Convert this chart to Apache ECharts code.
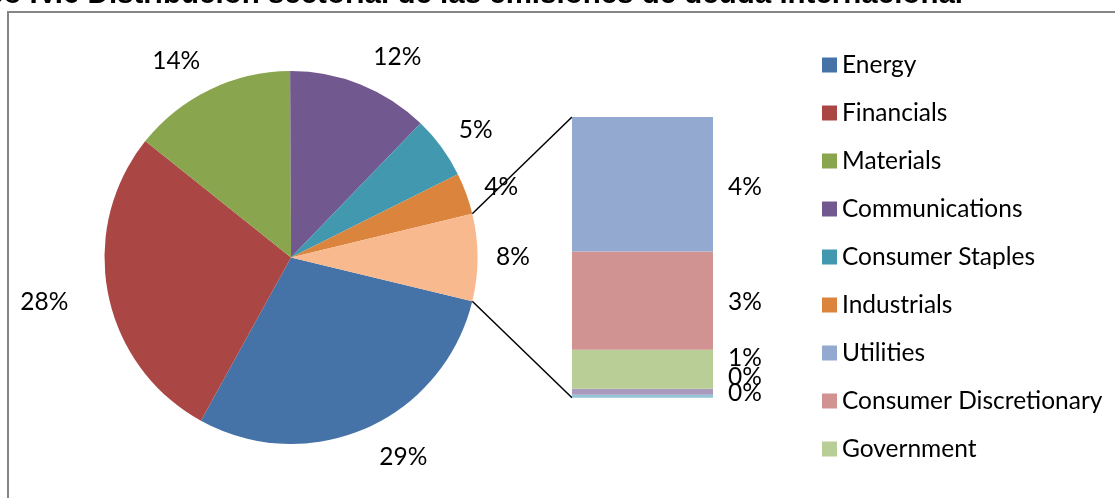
<!DOCTYPE html>
<html>
<head>
<meta charset="utf-8">
<script src="https://cdn.jsdelivr.net/npm/echarts@6/dist/echarts.min.js"></script>
<style>
  html, body { margin: 0; padding: 0; background: #fff; }
  #chart { width: 1115px; height: 498px; }
</style>
</head>
<body>
<div id="chart"></div>
<script>
// Sector shares of international debt issuance (%)
const pieSectors = ['Energy', 'Financials', 'Materials', 'Communications', 'Consumer Staples', 'Industrials'];
const pieValues  = [29.25, 27.7, 14.2, 12.3, 5.4, 3.6];
const pieColors  = ['#4572A7', '#AA4643', '#89A54E', '#71588F', '#4198AF', '#DB843D'];

// Smaller sectors, grouped into the pie's "Other" slice and broken out in the bar (top to bottom)
const barSectors = ['Utilities', 'Consumer Discretionary', 'Government', 'Health Care', 'Technology'];
const barValues  = [3.62, 2.64, 1.05, 0.16, 0.08];
const barColors  = ['#93A9CF', '#D19392', '#B9CD96', '#A99BBD', '#92C5D6'];

const otherName  = 'Other';
const otherColor = '#F9B98F';

const legendNames = ['Energy', 'Financials', 'Materials', 'Communications', 'Consumer Staples',
                     'Industrials', 'Utilities', 'Consumer Discretionary', 'Government'];

const titleText = 'Gráfico IV.6 Distribución sectorial de las emisiones de deuda internacional';

// ---- derived values ----
const otherTotal = barValues.reduce((a, b) => a + b, 0);
const grandTotal = pieValues.reduce((a, b) => a + b, 0) + otherTotal;
const pct = v => Math.round(v / grandTotal * 100) + '%';

// Rotate the pie so the "Other" slice is centred on 3 o'clock
const startAngle = -(otherTotal / grandTotal) * 180;

const FONT = 'Lato';
const FS = 24.5;

const PIE_CX = 291, PIE_CY = 257.5, PIE_R = 186.5;
const BAR = { left: 572, top: 117, width: 141, height: 280.7 };

const pieData = pieSectors.map((n, i) => ({ name: n, value: pieValues[i], itemStyle: { color: pieColors[i] } }))
  .concat([{ name: otherName, value: otherTotal, itemStyle: { color: otherColor } }]);

// Nudges for the pie's outside labels (pie order, then "Other")
const pieLabelNudge = [[20, -10], [-22, 0], [-15, 10], [21, 12], [0, 8], [-5, 8], [-7, 0]];

// Label nudges for the crowded small bar segments (top to bottom)
const barLabelDy = [3, 1, -11, -15, -3];

// Bar series stacked bottom-up, so reverse the top-to-bottom order
const barSeries = barSectors.map((n, i) => ({
  name: n,
  type: 'bar',
  stack: 'other',
  barWidth: '100%',
  silent: true,
  itemStyle: { color: barColors[i] },
  label: {
    show: true,
    position: 'right',
    distance: 15,
    offset: [0, barLabelDy[i]],
    formatter: p => pct(p.value),
    fontFamily: FONT, fontSize: FS, color: '#000'
  },
  data: [barValues[i]]
})).reverse();

// Connector lines from the edges of the "Other" slice to the bar's corners
const a1 = (startAngle + otherTotal / grandTotal * 360) * Math.PI / 180;
const a2 = startAngle * Math.PI / 180;
const p1 = [PIE_CX + PIE_R * Math.cos(a1), PIE_CY - PIE_R * Math.sin(a1)];
const p2 = [PIE_CX + PIE_R * Math.cos(a2), PIE_CY - PIE_R * Math.sin(a2)];

const chart = echarts.init(document.getElementById('chart'), null, { renderer: 'canvas' });

chart.setOption({
  animation: false,
  backgroundColor: '#fff',
  legend: {
    orient: 'vertical',
    left: 822,
    top: 52.5,
    padding: 0,
    itemWidth: 15,
    itemHeight: 15,
    itemGap: 23,
    icon: 'rect',
    selectedMode: false,
    textStyle: { fontFamily: FONT, fontSize: FS, lineHeight: 25, color: '#000' },
    data: legendNames.map(n => {
      const pi = pieSectors.indexOf(n);
      const c = pi >= 0 ? pieColors[pi] : barColors[barSectors.indexOf(n)];
      return { name: n, itemStyle: { color: c, borderWidth: 0 } };
    })
  },
  grid: { left: BAR.left, top: BAR.top, width: BAR.width, height: BAR.height },
  xAxis: { type: 'category', data: [otherName], show: false },
  yAxis: { type: 'value', min: 0, max: otherTotal, show: false },
  series: [
    {
      type: 'pie',
      center: [PIE_CX, PIE_CY],
      radius: PIE_R,
      startAngle: startAngle,
      clockwise: true,
      silent: true,
      avoidLabelOverlap: false,
      label: { show: false },
      labelLine: { show: false },
      itemStyle: { borderWidth: 0 },
      data: pieData
    },
    {
      // label ring: carries the percentage labels just outside the pie
      type: 'pie',
      center: [PIE_CX, PIE_CY],
      radius: [214, 238],
      startAngle: startAngle,
      clockwise: true,
      silent: true,
      avoidLabelOverlap: false,
      itemStyle: { color: 'rgba(0,0,0,0)', borderWidth: 0 },
      label: {
        show: true,
        position: 'inside',
        formatter: p => pct(p.value),
        fontFamily: FONT, fontSize: FS, color: '#000'
      },
      labelLine: { show: false },
      data: pieData.map((d, i) => ({
        name: d.name, value: d.value,
        label: { offset: pieLabelNudge[i] }
      }))
    }
  ].concat(barSeries),
  graphic: [
    {
      type: 'rect',
      silent: true,
      shape: { x: 8, y: 12, width: 1300, height: 700 },
      style: { fill: 'none', stroke: '#868686', lineWidth: 2 }
    },
    {
      type: 'text',
      silent: true,
      style: {
        text: titleText,
        x: 963, y: -5,
        font: 'bold 29.5px "Liberation Sans", Arial, sans-serif',
        textAlign: 'right', align: 'right',
        textVerticalAlign: 'middle', verticalAlign: 'middle',
        fill: '#000'
      }
    },
    {
      type: 'line', silent: true,
      shape: { x1: p1[0], y1: p1[1], x2: BAR.left, y2: BAR.top },
      style: { stroke: '#000', lineWidth: 1.5 }
    },
    {
      type: 'line', silent: true,
      shape: { x1: p2[0], y1: p2[1], x2: BAR.left, y2: BAR.top + BAR.height },
      style: { stroke: '#000', lineWidth: 1.5 }
    }
  ]
});
</script>
</body>
</html>
